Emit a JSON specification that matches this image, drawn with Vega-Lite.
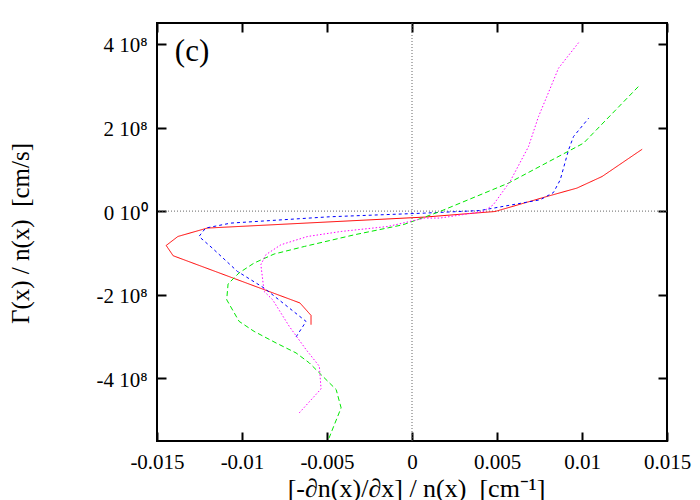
{
  "$schema": "https://vega.github.io/schema/vega-lite/v6.json",
  "width": 510,
  "height": 418,
  "autosize": {"type": "none"},
  "padding": {"left": 157, "top": 23, "right": 33, "bottom": 59},
  "config": {
    "view": {"stroke": "black", "strokeWidth": 2},
    "font": "Liberation Serif",
    "axis": {
      "grid": false,
      "domain": false,
      "tickColor": "black",
      "tickWidth": 2,
      "tickSize": -9,
      "labelFont": "Liberation Serif",
      "labelFontSize": 21,
      "labelColor": "black",
      "labelFlush": false,
      "titleFont": "Liberation Serif",
      "titleFontSize": 26,
      "titleFontWeight": "normal",
      "titleColor": "black"
    }
  },
  "datasets": {
    "curves": [
      {"s": "r", "o": 1, "x": -0.00594, "y": -2.717e8},
      {"s": "r", "o": 2, "x": -0.00594, "y": -2.495e8},
      {"s": "r", "o": 3, "x": -0.00659, "y": -2.198e8},
      {"s": "r", "o": 4, "x": -0.01405, "y": -1.068e8},
      {"s": "r", "o": 5, "x": -0.01446, "y": -0.822e8},
      {"s": "r", "o": 6, "x": -0.01377, "y": -0.607e8},
      {"s": "r", "o": 7, "x": -0.01204, "y": -0.406e8},
      {"s": "r", "o": 8, "x": 0.00075, "y": -0.143e8},
      {"s": "r", "o": 9, "x": 0.00488, "y": -0.01e8},
      {"s": "r", "o": 10, "x": 0.00793, "y": 0.349e8},
      {"s": "r", "o": 11, "x": 0.0097, "y": 0.55e8},
      {"s": "r", "o": 12, "x": 0.01118, "y": 0.827e8},
      {"s": "r", "o": 13, "x": 0.01354, "y": 1.48e8},

      {"s": "b", "o": 1, "x": -0.00682, "y": -3.01e8},
      {"s": "b", "o": 2, "x": -0.00623, "y": -2.64e8},
      {"s": "b", "o": 3, "x": -0.0087, "y": -1.84e8},
      {"s": "b", "o": 4, "x": -0.01027, "y": -1.443e8},
      {"s": "b", "o": 5, "x": -0.01175, "y": -0.884e8},
      {"s": "b", "o": 6, "x": -0.01253, "y": -0.607e8},
      {"s": "b", "o": 7, "x": -0.01214, "y": -0.406e8},
      {"s": "b", "o": 8, "x": -0.01066, "y": -0.287e8},
      {"s": "b", "o": 9, "x": -0.00486, "y": -0.136e8},
      {"s": "b", "o": 10, "x": 0.00075, "y": -0.048e8},
      {"s": "b", "o": 11, "x": 0.004, "y": 0.014e8},
      {"s": "b", "o": 12, "x": 0.00754, "y": 0.27e8},
      {"s": "b", "o": 13, "x": 0.00832, "y": 0.444e8},
      {"s": "b", "o": 14, "x": 0.00872, "y": 0.748e8},
      {"s": "b", "o": 15, "x": 0.00921, "y": 1.465e8},
      {"s": "b", "o": 16, "x": 0.0095, "y": 1.783e8},
      {"s": "b", "o": 17, "x": 0.01039, "y": 2.222e8},

      {"s": "g", "o": 1, "x": 0.01331, "y": 2.977e8},
      {"s": "g", "o": 2, "x": 0.01009, "y": 1.625e8},
      {"s": "g", "o": 3, "x": 0.00567, "y": 0.669e8},
      {"s": "g", "o": 4, "x": 0.00164, "y": -0.01e8},
      {"s": "g", "o": 5, "x": 0.00075, "y": -0.143e8},
      {"s": "g", "o": 6, "x": -0.00053, "y": -0.327e8},
      {"s": "g", "o": 7, "x": -0.00338, "y": -0.566e8},
      {"s": "g", "o": 8, "x": -0.00633, "y": -0.846e8},
      {"s": "g", "o": 9, "x": -0.00811, "y": -1.027e8},
      {"s": "g", "o": 10, "x": -0.00929, "y": -1.243e8},
      {"s": "g", "o": 11, "x": -0.01018, "y": -1.481e8},
      {"s": "g", "o": 12, "x": -0.01082, "y": -1.744e8},
      {"s": "g", "o": 13, "x": -0.0109, "y": -2.12e8},
      {"s": "g", "o": 14, "x": -0.01017, "y": -2.638e8},
      {"s": "g", "o": 15, "x": -0.00929, "y": -2.877e8},
      {"s": "g", "o": 16, "x": -0.008, "y": -3.154e8},
      {"s": "g", "o": 17, "x": -0.00682, "y": -3.393e8},
      {"s": "g", "o": 18, "x": -0.00604, "y": -3.632e8},
      {"s": "g", "o": 19, "x": -0.00525, "y": -3.952e8},
      {"s": "g", "o": 20, "x": -0.00446, "y": -4.27e8},
      {"s": "g", "o": 21, "x": -0.00417, "y": -4.707e8},
      {"s": "g", "o": 22, "x": -0.00476, "y": -5.305e8},
      {"s": "g", "o": 23, "x": -0.00495, "y": -5.5e8},

      {"s": "m", "o": 1, "x": -0.00663, "y": -4.827e8},
      {"s": "m", "o": 2, "x": -0.00535, "y": -4.253e8},
      {"s": "m", "o": 3, "x": -0.00545, "y": -3.713e8},
      {"s": "m", "o": 4, "x": -0.00623, "y": -3.314e8},
      {"s": "m", "o": 5, "x": -0.00722, "y": -2.757e8},
      {"s": "m", "o": 6, "x": -0.0082, "y": -2.12e8},
      {"s": "m", "o": 7, "x": -0.0087, "y": -1.921e8},
      {"s": "m", "o": 8, "x": -0.00889, "y": -1.283e8},
      {"s": "m", "o": 9, "x": -0.0086, "y": -1.044e8},
      {"s": "m", "o": 10, "x": -0.00771, "y": -0.805e8},
      {"s": "m", "o": 11, "x": -0.00614, "y": -0.607e8},
      {"s": "m", "o": 12, "x": -0.00417, "y": -0.487e8},
      {"s": "m", "o": 13, "x": -0.00142, "y": -0.368e8},
      {"s": "m", "o": 14, "x": 0.00075, "y": -0.167e8},
      {"s": "m", "o": 15, "x": 0.00164, "y": -0.167e8},
      {"s": "m", "o": 16, "x": 0.00419, "y": -0.01e8},
      {"s": "m", "o": 17, "x": 0.00478, "y": 0.15e8},
      {"s": "m", "o": 18, "x": 0.00577, "y": 0.71e8},
      {"s": "m", "o": 19, "x": 0.00685, "y": 1.54e8},
      {"s": "m", "o": 20, "x": 0.00744, "y": 2.26e8},
      {"s": "m", "o": 21, "x": 0.00793, "y": 2.74e8},
      {"s": "m", "o": 22, "x": 0.00862, "y": 3.42e8},
      {"s": "m", "o": 23, "x": 0.0098, "y": 4.03e8}
    ],
    "zero": [{"v": 0}],
    "label": [{"x": -0.01395, "y": 3.59e8, "t": "(c)"}]
  },
  "resolve": {"axis": {"x": "independent", "y": "independent"}},
  "layer": [
    {
      "data": {"name": "zero"},
      "layer": [
        {
          "mark": {"type": "rule", "color": "#666666", "strokeWidth": 1, "strokeDash": [1, 2]},
          "encoding": {
            "x": {"field": "v", "type": "quantitative", "scale": {"domain": [-0.015, 0.015], "nice": false, "zero": false},
              "axis": {"orient": "bottom", "values": [-0.015, -0.01, -0.005, 0, 0.005, 0.01, 0.015], "labelExpr": "'' + datum.value", "labelPadding": 19,
                "title": "[-∂n(x)/∂x] / n(x)\u00a0\u00a0[cm⁻¹]", "titleX": 259, "titleY": 55, "titleBaseline": "alphabetic", "titleAlign": "center", "titleAnchor": null}}
          }
        },
        {
          "mark": {"type": "rule", "color": "#666666", "strokeWidth": 1, "strokeDash": [1, 2]},
          "encoding": {
            "y": {"field": "v", "type": "quantitative", "scale": {"domain": [-5.5e8, 4.5e8], "nice": false, "zero": false},
              "axis": {"orient": "left", "values": [-4e8, -2e8, 0, 2e8, 4e8], "labelExpr": "datum.value == 0 ? '0 10⁰' : (datum.value / 1e8) + ' 10⁸'", "labelPadding": 19, "labelOffset": 2,
                "title": "Γ(x) / n(x)\u00a0\u00a0[cm/s]", "titleFontSize": 25, "titleAngle": -90, "titleX": -124, "titleY": 210, "titleBaseline": "bottom", "titleAlign": "center", "titleAnchor": null}}
          }
        }
      ]
    },
    {
      "data": {"name": "curves"},
      "mark": {"type": "line", "strokeWidth": 1},
      "encoding": {
        "x": {"field": "x", "type": "quantitative", "scale": {"domain": [-0.015, 0.015], "nice": false, "zero": false},
          "axis": {"orient": "top", "values": [-0.015, -0.01, -0.005, 0, 0.005, 0.01, 0.015], "labels": false, "title": null}},
        "y": {"field": "y", "type": "quantitative", "scale": {"domain": [-5.5e8, 4.5e8], "nice": false, "zero": false},
          "axis": {"orient": "right", "values": [-4e8, -2e8, 0, 2e8, 4e8], "labels": false, "title": null}},
        "order": {"field": "o", "type": "quantitative"},
        "color": {"field": "s", "type": "nominal", "legend": null,
          "scale": {"domain": ["r", "b", "g", "m"], "range": ["#ff0000", "#0000ff", "#00e800", "#ff00ff"]}},
        "strokeDash": {"field": "s", "type": "nominal", "legend": null,
          "scale": {"domain": ["r", "b", "g", "m"], "range": [[1, 0], [3, 3], [5, 3], [1.5, 2]]}}
      }
    },
    {
      "data": {"name": "label"},
      "mark": {"type": "text", "align": "left", "baseline": "alphabetic", "fontSize": 31, "font": "Liberation Serif", "color": "black"},
      "encoding": {
        "x": {"field": "x", "type": "quantitative", "axis": null},
        "y": {"field": "y", "type": "quantitative", "axis": null},
        "text": {"field": "t"}
      }
    }
  ]
}
